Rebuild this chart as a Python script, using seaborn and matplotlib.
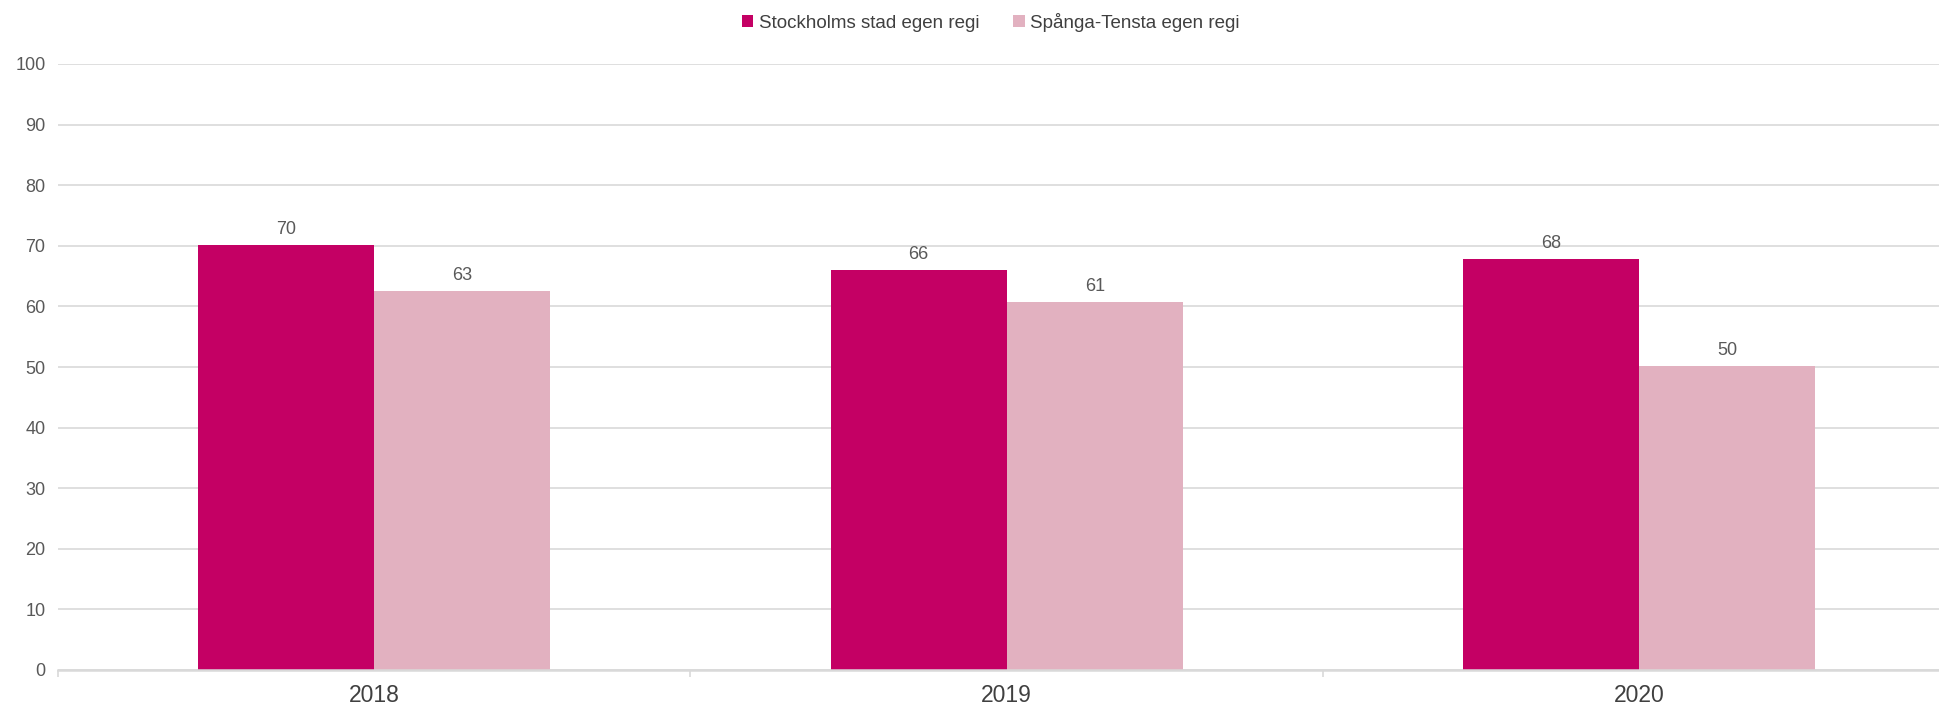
import matplotlib
matplotlib.use("Agg")
import matplotlib.pyplot as plt
import seaborn as sns
import pandas as pd

years = ["2018", "2019", "2020"]
series_names = ["Stockholms stad egen regi", "Spånga-Tensta egen regi"]
stockholm = [70.2, 66.0, 67.8]
spanga = [62.6, 60.8, 50.1]
colors = ["#C40064", "#E2B1C0"]
yticks = [0, 10, 20, 30, 40, 50, 60, 70, 80, 90, 100]

df = pd.DataFrame({
    "year": years * 2,
    "series": [series_names[0]] * 3 + [series_names[1]] * 3,
    "value": stockholm + spanga,
})

sns.set_theme(style="white")
plt.rcParams["font.family"] = ["Liberation Sans", "DejaVu Sans"]

fig = plt.figure(figsize=(19.39, 7.06), dpi=100)
ax = fig.add_axes([58 / 1939, 36 / 706, 1 - 58 / 1939, (670 - 64) / 706])

sns.barplot(data=df, x="year", y="value", hue="series", hue_order=series_names,
            palette=colors, width=0.557, gap=0, saturation=1, ax=ax,
            edgecolor="none", linewidth=0, legend=True)

ax.set_ylim(0, 100)
ax.set_xlim(-0.5, 2.474)
ax.set_yticks(yticks)
ax.set_yticklabels([str(t) for t in yticks])
ax.yaxis.grid(True, color="#D9D9D9", linewidth=1.2)
ax.set_axisbelow(True)
for s in ["top", "right", "left"]:
    ax.spines[s].set_visible(False)
ax.spines["bottom"].set_color("#D9D9D9")
ax.spines["bottom"].set_linewidth(1.8)
ax.set_xlabel("")
ax.set_ylabel("")

ax.tick_params(axis="y", length=0, labelsize=13, labelcolor="#595959", pad=9)
ax.tick_params(axis="x", which="major", length=0, labelsize=16.5, labelcolor="#404040", pad=10)
ax.set_xticks([-0.5, 0.5, 1.5], minor=True)
ax.tick_params(axis="x", which="minor", bottom=True, length=5, width=1.2, color="#D9D9D9")

for cont in ax.containers:
    ax.bar_label(cont, fmt="%.0f", padding=5, fontsize=13, color="#595959")

handles, labels = ax.get_legend_handles_labels()
ax.get_legend().remove()
fig.legend(handles, labels, loc="center", bbox_to_anchor=(991 / 1939, 1 - 22 / 706), ncol=2,
           frameon=False, fontsize=13.5, handlelength=0.6, handleheight=0.6,
           handletextpad=0.3, columnspacing=1.8, labelcolor="#404040")

fig.savefig("out.png", dpi=100)
